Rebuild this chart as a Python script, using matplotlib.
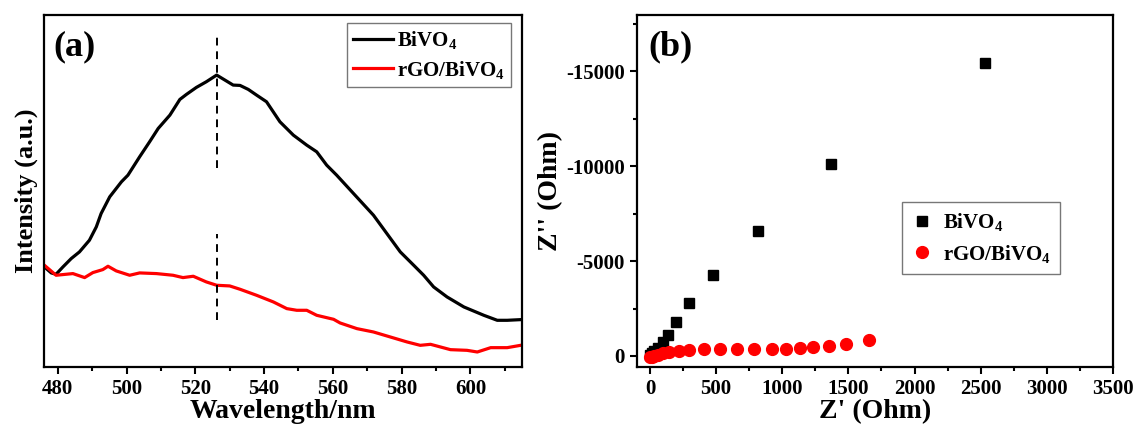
import matplotlib
matplotlib.use("Agg")
import matplotlib.pyplot as plt
from matplotlib.ticker import MultipleLocator

plt.rcParams["font.family"] = ["Liberation Serif", "DejaVu Serif"]
plt.rcParams["font.weight"] = "bold"
plt.rcParams["mathtext.fontset"] = "custom"
plt.rcParams["mathtext.rm"] = "Liberation Serif:bold"
plt.rcParams["mathtext.default"] = "rm"
plt.rcParams["axes.unicode_minus"] = False

# (a) PL spectra (intensity in arbitrary units)
wl_bivo4 = [476.1, 478.1, 479.5, 481.5, 483.9, 486.3, 489.2, 491.2, 492.6, 495.1,
            498.5, 500.4, 503.8, 506.7, 509.2, 512.6, 515.5, 517.4, 520.3, 523.2,
            526.2, 528.6, 531.0, 533.0, 535.4, 537.8, 540.7, 544.6, 548.5, 552.4,
            555.3, 558.2, 561.1, 566.0, 571.8, 575.7, 579.6, 583.5, 586.4, 589.3,
            593.2, 598.1, 603.9, 607.8, 610.7, 614.6]
pl_bivo4 = [300, 282, 278, 300, 325, 345, 380, 420, 460, 510,
            555, 575, 630, 675, 715, 755, 802, 817, 838, 855,
            875, 860, 845, 844, 832, 815, 795, 735, 695, 665,
            645, 605, 575, 520, 455, 400, 345, 305, 275, 240,
            210, 180, 155, 140, 140, 142]

wl_rgo = [476.1, 479.5, 484.4, 487.8, 490.2, 493.1, 494.6, 497.0, 500.9, 503.8,
          508.7, 513.5, 516.4, 519.4, 523.2, 526.2, 530.0, 533.0, 537.8, 542.7,
          546.6, 549.5, 552.4, 555.3, 560.2, 562.1, 567.0, 571.8, 576.7, 581.6,
          585.4, 588.4, 594.2, 599.0, 602.0, 605.9, 610.7, 614.6]
pl_rgo = [305, 275, 280, 268, 283, 292, 302, 288, 275, 282,
          280, 275, 268, 272, 255, 245, 243, 233, 215, 195,
          175, 170, 170, 155, 143, 132, 115, 105, 90, 75,
          65, 68, 52, 50, 45, 58, 58, 65]

peak_wl = 526.2
peak_marks = [(595, 1000), (140, 400)]

# (b) Nyquist plots
zre_bivo4 = [3, 15, 33, 58, 96, 139, 197, 298, 480, 816, 1371, 2532]
zim_bivo4 = [-35, -140, -263, -439, -737, -1123, -1789, -2771, -4280, -6578, -10120, -15400]

zre_rgo = [3, 15, 33, 58, 96, 146, 217, 298, 412, 530, 659, 788, 920, 1030,
           1131, 1232, 1354, 1480, 1654]
zim_rgo = [35, 35, 0, -70, -140, -210, -263, -298, -351, -351, -386, -386,
           -386, -386, -421, -456, -526, -649, -824]

fig = plt.figure(figsize=(11.38, 4.29), dpi=100)
ax1 = fig.add_axes([0.0387, 0.1445, 0.42, 0.8205])
ax2 = fig.add_axes([0.5595, 0.1445, 0.4185, 0.8205])

for ax in (ax1, ax2):
    for sp in ax.spines.values():
        sp.set_linewidth(1.6)
    ax.tick_params(which="major", direction="out", length=5, width=1.5, labelsize=15)
    ax.tick_params(which="minor", direction="out", length=3, width=1.5)

# panel (a)
ax1.plot(wl_bivo4, pl_bivo4, color="black", lw=2.3, label="BiVO$_4$")
ax1.plot(wl_rgo, pl_rgo, color="red", lw=2.3, label="rGO/BiVO$_4$")
for lo, hi in peak_marks:
    ax1.plot([peak_wl, peak_wl], [lo, hi], color="black", lw=1.4, ls=(0, (4, 3)))
ax1.set_xlim(476, 615)
ax1.set_ylim(0, 1055)
ax1.xaxis.set_major_locator(MultipleLocator(20))
ax1.xaxis.set_minor_locator(MultipleLocator(10))
ax1.set_yticks([])
ax1.set_xlabel("Wavelength/nm", fontsize=20, fontweight="bold", labelpad=0)
ax1.set_ylabel("Intensity (a.u.)", fontsize=19, fontweight="bold", labelpad=4)
ax1.text(0.02, 0.91, "(a)", transform=ax1.transAxes, fontsize=26,
         fontweight="bold", va="center", ha="left")
leg1 = ax1.legend(loc="upper right", bbox_to_anchor=(0.977, 0.977), borderaxespad=0,
                  fontsize=15, frameon=True, fancybox=False, handlelength=1.9,
                  handletextpad=0.2, borderpad=0.3, labelspacing=0.35)
leg1.get_frame().set_edgecolor("#555555")
leg1.get_frame().set_linewidth(1.0)

# panel (b)
ax2.plot(zre_bivo4, zim_bivo4, ls="none", marker="s", ms=7.5, color="black",
         label="BiVO$_4$")
ax2.plot(zre_rgo, zim_rgo, ls="none", marker="o", ms=8.5, color="red",
         label="rGO/BiVO$_4$")
ax2.set_xlim(-100, 3500)
ax2.set_ylim(580, -17950)
ax2.xaxis.set_major_locator(MultipleLocator(500))
ax2.xaxis.set_minor_locator(MultipleLocator(250))
ax2.yaxis.set_major_locator(MultipleLocator(5000))
ax2.yaxis.set_minor_locator(MultipleLocator(2500))
ax2.set_xlabel("Z' (Ohm)", fontsize=20, fontweight="bold", labelpad=0)
ax2.set_ylabel("Z'' (Ohm)", fontsize=20, fontweight="bold", labelpad=2)
ax2.text(0.025, 0.91, "(b)", transform=ax2.transAxes, fontsize=26,
         fontweight="bold", va="center", ha="left")
leg2 = ax2.legend(loc="upper left", bbox_to_anchor=(0.557, 0.469), borderaxespad=0,
                  fontsize=15, frameon=True, fancybox=False, handlelength=1.0,
                  handletextpad=0.5, borderpad=0.45, labelspacing=0.45)
leg2.get_frame().set_edgecolor("#555555")
leg2.get_frame().set_linewidth(1.0)

for lab in ax1.get_xticklabels() + ax2.get_xticklabels() + ax2.get_yticklabels():
    lab.set_fontweight("bold")

fig.savefig("out.png", dpi=100)
